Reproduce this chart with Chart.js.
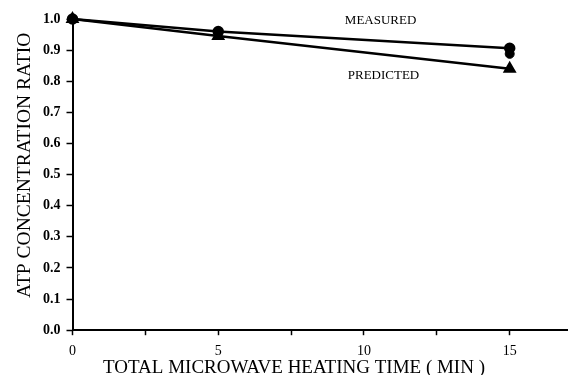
<!DOCTYPE html>
<html>
<head>
<meta charset="utf-8">
<script src="https://cdn.jsdelivr.net/npm/chart.js@4/dist/chart.umd.min.js"></script>
<style>
  html, body { margin: 0; padding: 0; background: #fff; }
  #wrap { width: 568px; height: 375px; }
</style>
</head>
<body>
<div id="wrap"><canvas id="chart" width="568" height="375"></canvas></div>
<script>
// Heating time (min) and ATP ratio
const times = [0, 5, 15];
const measured = [1.0, 0.96, 0.906];
const measuredExtra = [{ x: 15, y: 0.888 }];
const predicted = [1.0, 0.945, 0.84];

const xTicks = [0, 2.5, 5, 7.5, 10, 12.5, 15];
const yTicks = [0, 0.05, 0.1, 0.15, 0.2, 0.25, 0.3, 0.35, 0.4, 0.45, 0.5, 0.55, 0.6, 0.65, 0.7, 0.75, 0.8, 0.85, 0.9, 0.95, 1.0];
const xTitle = 'TOTAL MICROWAVE HEATING TIME ( MIN )';
const yTitle = 'ATP CONCENTRATION RATIO';

// series labels placed on the plot (data coords)
const seriesLabels = [
    { text: 'MEASURED', x: 10.57, y: 0.994 },
    { text: 'PREDICTED', x: 10.67, y: 0.817 }
];

const serif = '"Liberation Serif", "Times New Roman", serif';

const toPoints = (ys) => times.map((t, i) => ({ x: t, y: ys[i] }));

const labelPlugin = {
    id: 'seriesLabels',
    afterDatasetsDraw(chart) {
        const { ctx, scales } = chart;
        ctx.save();
        ctx.fillStyle = '#000';
        ctx.textAlign = 'center';
        ctx.textBaseline = 'middle';
        ctx.font = '13px ' + serif;
        seriesLabels.forEach(l => {
            ctx.fillText(l.text, scales.x.getPixelForValue(l.x), scales.y.getPixelForValue(l.y));
        });
        // axis titles sit a little toward the origin in the original, so place them by hand
        ctx.font = '19px ' + serif;
        ctx.fillText(xTitle, scales.x.getPixelForValue(7.6), chart.chartArea.bottom + 38);
        ctx.translate(25, scales.y.getPixelForValue(0.53));
        ctx.rotate(-Math.PI / 2);
        ctx.font = '19.5px ' + serif;
        ctx.fillText(yTitle, 0, 0);
        ctx.restore();
    }
};

new Chart(document.getElementById('chart'), {
    type: 'scatter',
    data: {
        datasets: [
            {
                label: 'Measured',
                data: toPoints(measured),
                showLine: true,
                borderColor: '#000',
                backgroundColor: '#000',
                borderWidth: 2.5,
                pointStyle: 'circle',
                pointRadius: 4.5,
                clip: false
            },
            {
                label: 'Measured (2)',
                data: measuredExtra,
                showLine: false,
                borderColor: '#000',
                backgroundColor: '#000',
                pointStyle: 'circle',
                pointRadius: 4.5,
                clip: false
            },
            {
                label: 'Predicted',
                data: toPoints(predicted),
                showLine: true,
                borderColor: '#000',
                backgroundColor: '#000',
                borderWidth: 2.5,
                pointStyle: 'triangle',
                pointRadius: 5.5,
                clip: false
            }
        ]
    },
    options: {
        responsive: false,
        animation: false,
        layout: { autoPadding: false, padding: { left: 37, right: 0, top: 19, bottom: 7 } },
        plugins: {
            legend: { display: false },
            tooltip: { enabled: false }
        },
        scales: {
            x: {
                type: 'linear',
                min: 0,
                max: 17,
                afterBuildTicks: (axis) => { axis.ticks = xTicks.map(v => ({ value: v })); },
                afterFit: (axis) => { axis.paddingRight = 0; },
                ticks: {
                    color: '#000',
                    font: { family: serif, size: 14 },
                    padding: 8,
                    maxRotation: 0,
                    callback: (v) => (v % 5 === 0 ? String(v) : '')
                },
                grid: { drawOnChartArea: false, drawTicks: true, tickLength: 5, color: '#000', tickWidth: 1.5 },
                border: { color: '#000', width: 2 }
            },
            y: {
                type: 'linear',
                min: 0,
                max: 1.0,
                afterBuildTicks: (axis) => { axis.ticks = yTicks.map(v => ({ value: v })); },
                ticks: {
                    color: '#000',
                    font: { family: serif, size: 14, weight: 'bold' },
                    padding: 6,
                    callback: (v) => (Math.round(v * 100) % 10 === 0 ? v.toFixed(1) : '')
                },
                grid: { drawOnChartArea: false, drawTicks: true, tickLength: 6, color: '#000', tickWidth: 1.5 },
                border: { color: '#000', width: 2 }
            }
        }
    },
    plugins: [labelPlugin]
});
</script>
</body>
</html>
